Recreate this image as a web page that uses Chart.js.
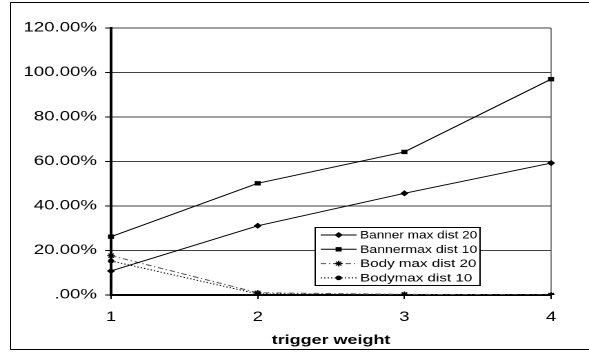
<!DOCTYPE html>
<html>
<head>
<meta charset="utf-8">
<script src="https://cdn.jsdelivr.net/npm/chart.js@4.4.0/dist/chart.umd.min.js"></script>
<style>
  html, body { margin: 0; padding: 0; background: #fff; overflow: hidden; }
  #frame { position: absolute; left: 10px; top: 2px; width: 600px; height: 348px; border: 1px solid #000; box-sizing: border-box; }
  #wrap { position: absolute; left: 0; top: 0; width: 427px; height: 353px; transform: scaleX(1.3794); transform-origin: 0 0; }
</style>
</head>
<body>
<div id="frame"></div>
<div id="wrap"><canvas id="chart" width="427" height="353"></canvas></div>
<script>
// values (percent)
const categories = ["1", "2", "3", "4"];
const bannerDist20 = [10.8, 31.1, 45.7, 59.3];
const bannerDist10 = [26.2, 50.2, 64.3, 97.0];
const bodyDist20 = [17.7, 1.0, 0.3, 0];
const bodyDist10 = [15.3, 0.5, 0.1, 0];
const yTicks = [0, 20, 40, 60, 80, 100, 120];

Chart.defaults.font.family = "'Liberation Sans', Arial, sans-serif";
Chart.defaults.color = "#000";

// legend box drawn inside the plot, like the original
const legendBox = {
  id: "legendBox",
  afterDatasetsDraw(chart) {
    const ctx = chart.ctx;
    const x0 = 228.5, y0 = 227.5, w = 119.5, h = 58;
    ctx.save();
    ctx.fillStyle = "#fff";
    ctx.fillRect(x0, y0, w, h);
    ctx.strokeStyle = "#000";
    ctx.lineWidth = 1;
    ctx.strokeRect(x0, y0, w, h);

    chart.data.datasets.forEach((ds, i) => {
      const y = 235 + i * 14.3;
      ctx.strokeStyle = ds.borderColor;
      ctx.lineWidth = ds.borderWidth;
      ctx.setLineDash(ds.borderDash || []);
      ctx.beginPath();
      ctx.moveTo(232.5, y);
      ctx.lineTo(258.5, y);
      ctx.stroke();
      ctx.setLineDash([]);

      ctx.fillStyle = ds.pointBackgroundColor;
      ctx.strokeStyle = ds.pointBorderColor;
      Chart.helpers.drawPoint(ctx, {
        pointStyle: ds.pointStyle,
        radius: ds.pointRadius,
        borderWidth: 1,
        rotation: 0
      }, 245.5, y);

      ctx.fillStyle = "#000";
      ctx.font = "11px 'Liberation Sans', Arial, sans-serif";
      ctx.textBaseline = "middle";
      ctx.textAlign = "left";
      ctx.fillText(ds.label, 261, y + 0.5, 85);
    });
    ctx.restore();
  }
};

new Chart(document.getElementById("chart"), {
  type: "line",
  data: {
    labels: categories,
    datasets: [
      {
        label: "Banner max dist 20",
        data: bannerDist20,
        borderColor: "#000",
        borderWidth: 1,
        pointStyle: "rectRot",
        pointRadius: 2.3,
        pointBackgroundColor: "#000",
        pointBorderColor: "#000"
      },
      {
        label: "Bannermax dist 10",
        data: bannerDist10,
        borderColor: "#000",
        borderWidth: 1,
        pointStyle: "rect",
        pointRadius: 2.4,
        pointBackgroundColor: "#000",
        pointBorderColor: "#000"
      },
      {
        label: "Body max dist 20",
        data: bodyDist20,
        borderColor: "#555",
        borderWidth: 1,
        borderDash: [4, 2, 1, 2],
        pointStyle: "star",
        pointRadius: 2.8,
        pointBackgroundColor: "#000",
        pointBorderColor: "#000"
      },
      {
        label: "Bodymax dist 10",
        data: bodyDist10,
        borderColor: "#000",
        borderWidth: 1,
        borderDash: [1, 1.5],
        pointStyle: "circle",
        pointRadius: 1.8,
        pointBackgroundColor: "#000",
        pointBorderColor: "#000"
      }
    ]
  },
  options: {
    responsive: false,
    animation: false,
    devicePixelRatio: 2,
    layout: { padding: { top: 28, right: 27.5, left: 0, bottom: 0 } },
    elements: { line: { tension: 0 } },
    plugins: {
      legend: { display: false },
      tooltip: { enabled: false }
    },
    scales: {
      x: {
        offset: false,
        afterFit(scale) { scale.height = 58; },
        grid: {
          color: ctx => ctx.index === categories.length - 1 ? "#808080" : "rgba(0,0,0,0)",
          tickColor: "#000",
          tickLength: 4,
          lineWidth: 1
        },
        border: { color: "#000", width: 2 },
        ticks: { font: { size: 13.5 }, padding: 10, color: "#000" },
        title: {
          display: true,
          text: "trigger weight",
          font: { size: 13, weight: "bold" },
          color: "#000",
          padding: { top: 2, bottom: 5 }
        }
      },
      y: {
        min: 0,
        max: 120,
        afterFit(scale) { scale.width = 80.5; },
        afterBuildTicks(scale) { scale.ticks = yTicks.map(v => ({ value: v })); },
        grid: { color: "#404040", tickColor: "#000", tickLength: 4.3, lineWidth: 1 },
        border: { color: "#000", width: 2 },
        ticks: {
          font: { size: 13.5 },
          padding: 5.9,
          color: "#000",
          callback: v => v === 0 ? ".00%" : v.toFixed(2) + "%"
        }
      }
    }
  },
  plugins: [legendBox]
});
</script>
</body>
</html>
